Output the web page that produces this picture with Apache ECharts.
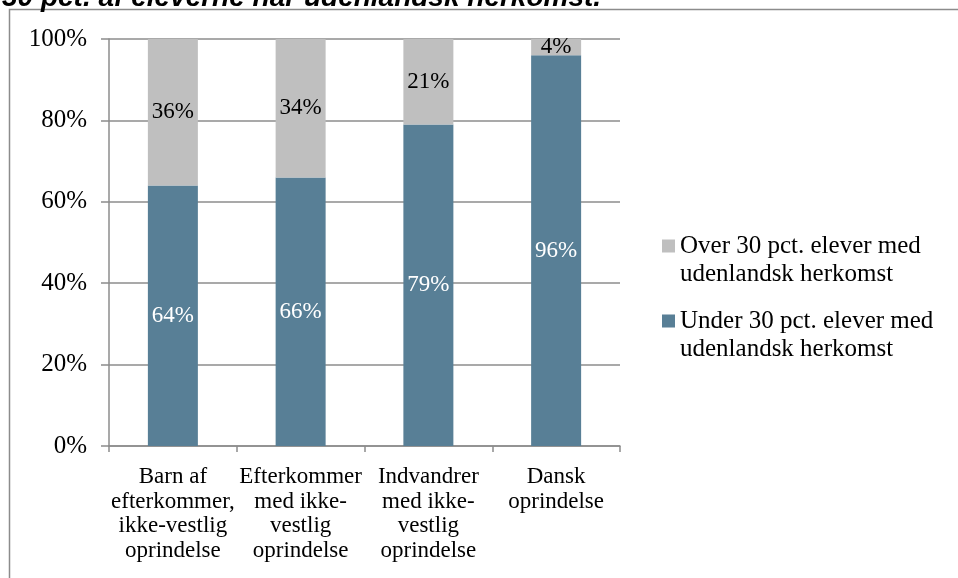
<!DOCTYPE html>
<html>
<head>
<meta charset="utf-8">
<script src="https://cdn.jsdelivr.net/npm/echarts@6/dist/echarts.min.js"></script>
<style>
html,body{margin:0;padding:0;background:#fff;}
#chart{width:958px;height:578px;}
</style>
</head>
<body>
<div id="chart"></div>
<script>
var titleText = '30 pct. af eleverne har udenlandsk herkomst.';
var categories = ['Barn af\nefterkommer,\nikke-vestlig\noprindelse', 'Efterkommer\nmed ikke-\nvestlig\noprindelse', 'Indvandrer\nmed ikke-\nvestlig\noprindelse', 'Dansk\noprindelse'];
var seriesNames = ['Over 30 pct. elever med\nudenlandsk herkomst', 'Under 30 pct. elever med\nudenlandsk herkomst'];
var overValues = [36, 34, 21, 4];
var underValues = [64, 66, 79, 96];
var yTicks = [0, 20, 40, 60, 80, 100];

var serif = '"Liberation Serif", "DejaVu Serif", serif';
var chart = echarts.init(document.getElementById('chart'));
var axisGray = '#8c8c8c';
chart.setOption({
  animation: false,
  backgroundColor: '#fff',
  graphic: [
    {type: 'rect', shape: {x: 9.5, y: 9.5, width: 1000, height: 700}, style: {fill: 'none', stroke: '#8c8c8c', lineWidth: 1.5}, z: 0},
    {type: 'text', left: 2, top: -16, style: {text: titleText, font: 'italic bold 28px "Liberation Sans", Arial, sans-serif', fill: '#000'}, z: 10}
  ],
  grid: {left: 109, right: 338, top: 39, bottom: 132, containLabel: false},
  legend: {
    orient: 'vertical',
    left: 657, top: 227,
    itemWidth: 13, itemHeight: 41, itemGap: 19,
    data: [seriesNames[0], seriesNames[1]],
    textStyle: {fontFamily: serif, fontSize: 25, color: '#000', lineHeight: 28},
    icon: 'path://M0,0L13,0L13,13L0,13Z M13,41L13,41Z',
    itemStyle: {borderWidth: 0}
  },
  xAxis: {
    type: 'category',
    data: categories,
    axisLine: {lineStyle: {color: axisGray, width: 1.5}},
    axisTick: {show: true, length: 6, lineStyle: {color: axisGray, width: 1.5}},
    axisLabel: {fontFamily: serif, fontSize: 23, color: '#000', lineHeight: 24.5, margin: 19, interval: 0}
  },
  yAxis: {
    type: 'value', min: 0, max: 100, interval: 20,
    axisLine: {show: true, lineStyle: {color: axisGray, width: 1.5}},
    axisTick: {show: true, length: 8, lineStyle: {color: axisGray, width: 1.5}},
    splitLine: {lineStyle: {color: axisGray, width: 1.5}},
    axisLabel: {fontFamily: serif, fontSize: 25, color: '#000', margin: 22, formatter: function(v){ return yTicks.indexOf(v) >= 0 ? v + '%' : ''; }}
  },
  series: [
    {
      name: seriesNames[1], type: 'bar', stack: 'a', barWidth: 50,
      data: underValues,
      itemStyle: {color: '#587f96'},
      label: {show: true, position: 'inside', formatter: '{c}%', color: '#fff', fontFamily: serif, fontSize: 23}
    },
    {
      name: seriesNames[0], type: 'bar', stack: 'a', barWidth: 50,
      data: overValues,
      itemStyle: {color: '#bfbfbf'},
      label: {show: true, position: 'inside', formatter: '{c}%', color: '#000', fontFamily: serif, fontSize: 23}
    }
  ]
});
</script>
</body>
</html>
